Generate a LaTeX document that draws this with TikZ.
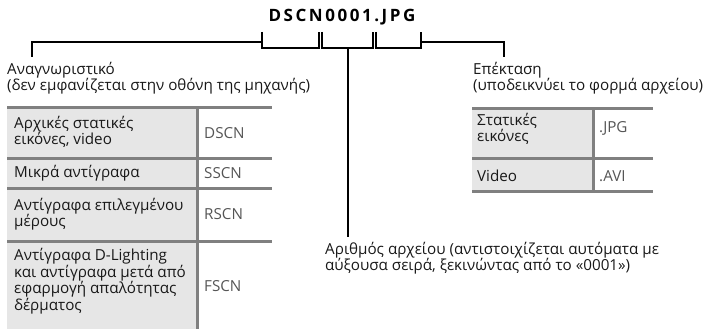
\documentclass[tikz,border=0pt]{standalone}
\usepackage{fontspec}
\setmainfont{Open Sans}
\newfontfamily\titlefont[LetterSpace=15]{Open Sans}
\definecolor{gridgray}{HTML}{808080}
\definecolor{cellgray}{HTML}{E6E6E6}
\definecolor{codegray}{HTML}{555555}
\newcommand{\bodyfont}{\fontsize{15.2}{16.5}\selectfont}
\begin{document}
\begin{tikzpicture}[x=1pt,y=-1pt,
  brk/.style={line width=2pt, black, line cap=butt},
  gridline/.style={line width=3pt, draw=gridgray},
  txt/.style={inner sep=0pt, anchor=west, align=left, font=\bodyfont, text=black!90},
  code/.style={inner sep=0pt, anchor=west, font=\bodyfont, text=codegray}]
\useasboundingbox (0,0) rectangle (704,329);
% title
\node[inner sep=0pt, anchor=base, font=\titlefont\bfseries\fontsize{17}{19}\selectfont] (title) at (342,21.5) {DSCN0001.JPG};
% brackets
\coordinate (d1) at (262,32); \coordinate (d2) at (319,32);
\coordinate (n1) at (322,32); \coordinate (n2) at (373,32);
\coordinate (e1) at (376,32); \coordinate (e2) at (421,32);
\draw[brk] (d1) -- ++(0,16) -| (d2);
\draw[brk] (n1) -- ++(0,16) -| (n2);
\draw[brk] (e1) -- ++(0,16) -| (e2);
% captions
\node[txt] (idcap) at (7,78) {Αναγνωριστικό\\(δεν εμφανίζεται στην οθόνη της μηχανής)};
\node[txt] (extcap) at (473,78) {Επέκταση\\(υποδεικνύει το φορμά αρχείου)};
\node[txt] (numcap) at (325,258) {Αριθμός αρχείου (αντιστοιχίζεται αυτόματα με\\αύξουσα σειρά, ξεκινώντας από το «0001»)};
\coordinate (lj) at (262,42); \coordinate (rj) at (421,42); \coordinate (mj) at (348,48);
\draw[brk] (lj) -- (32,42) -- (32,57);
\draw[brk] (rj) -- (504,42) -- (504,57);
\draw[brk] (mj) -- (348,237);
% left table
\fill[cellgray] (7,107) rectangle (197,329);
\foreach \yy in {107,158,188,241} \draw[gridline] (7,\yy) -- (272,\yy);
\draw[gridline] (197,107) -- (197,329);
\node[txt] (r1a) at (14,132) {Αρχικές στατικές\\εικόνες, video};
\node[code] (r1b) at (204,133) {DSCN};
\node[txt] (r2a) at (14,173) {Μικρά αντίγραφα};
\node[code] (r2b) at (204,173) {SSCN};
\node[txt] (r3a) at (14,214) {Αντίγραφα επιλεγμένου\\μέρους};
\node[code] (r3b) at (204,214) {RSCN};
\node[txt] (r4a) at (14,281) {Αντίγραφα D-Lighting\\και αντίγραφα μετά από\\εφαρμογή απαλότητας\\δέρματος};
\node[code] (r4b) at (204,286) {FSCN};
% right table
\fill[cellgray] (472,108) rectangle (593,191);
\foreach \yy in {108,158,191} \draw[gridline] (472,\yy) -- (653,\yy);
\draw[gridline] (593,108) -- (593,191);
\node[txt] (s1a) at (477,129) {Στατικές\\εικόνες};
\node[code] (s1b) at (599,128) {.JPG};
\node[txt] (s2a) at (477,176) {Video};
\node[code] (s2b) at (599,176) {.AVI};
\end{tikzpicture}
\end{document}
